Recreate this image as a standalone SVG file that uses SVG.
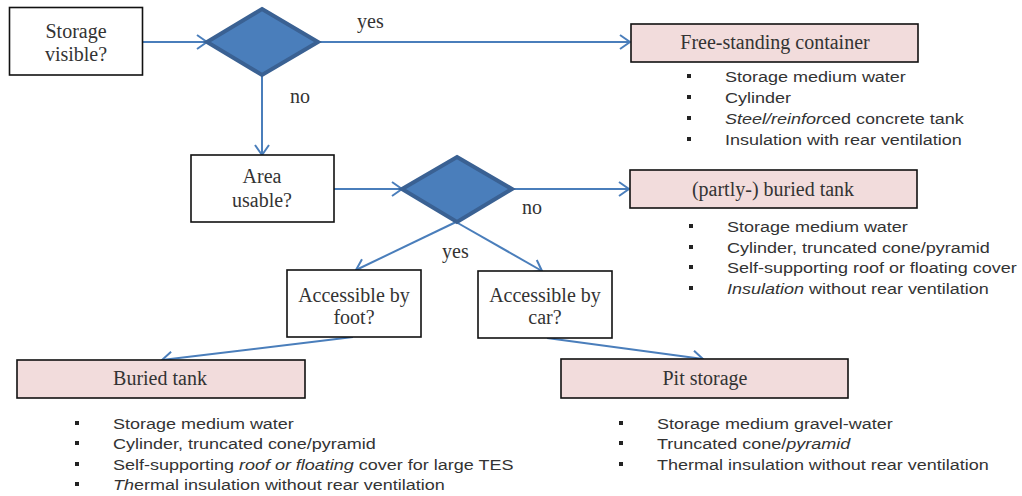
<svg xmlns="http://www.w3.org/2000/svg" width="1022" height="496" viewBox="0 0 1022 496">
<defs>
<style>
.q{fill:#fff;stroke:#111;stroke-width:1.6}
.r{fill:#f2dcdc;stroke:#111;stroke-width:1.6}
.d{fill:#4a7ebb;stroke:#3a6193;stroke-width:4;stroke-linejoin:miter}
.t{font-family:"Liberation Serif","Times New Roman",serif;font-size:20px;fill:#333;text-anchor:middle}
.l{font-family:"Liberation Serif","Times New Roman",serif;font-size:20px;fill:#333}
.b{font-family:"Liberation Sans",Arial,sans-serif;font-size:15px;fill:#333}
.k{fill:#222}
.c{stroke:#4a7ebb;stroke-width:2;fill:none;marker-end:url(#ah)}
</style>
<marker id="ah" viewBox="0 0 12 16" refX="11" refY="8" markerWidth="12" markerHeight="16" markerUnits="userSpaceOnUse" orient="auto">
<path d="M1,1 L11,8 L1,15" fill="none" stroke="#4a7ebb" stroke-width="2"/>
</marker>
</defs>
<rect width="1022" height="496" fill="#fff"/>

<g id="connectors">
<line class="c" x1="143" y1="42" x2="207" y2="42"/>
<line class="c" x1="318" y1="42" x2="630" y2="42"/>
<line class="c" x1="262" y1="75" x2="262" y2="155"/>
<line class="c" x1="334" y1="189" x2="402" y2="189"/>
<line class="c" x1="512" y1="189" x2="629" y2="189"/>
<line class="c" x1="456" y1="222" x2="356" y2="270"/>
<line class="c" x1="456" y1="222" x2="542" y2="271"/>
<line class="c" x1="353" y1="337" x2="162" y2="360"/>
<line class="c" x1="547" y1="338" x2="703" y2="359"/>
<text class="l" x="357" y="28">yes</text>
<text class="l" x="290" y="103">no</text>
<text class="l" x="522" y="214">no</text>
<text class="l" x="442" y="258">yes</text>
</g>

<g id="storage-visible">
<rect class="q" x="9.5" y="7.5" width="133" height="67.5"/>
<text class="t" x="76" y="38">Storage</text>
<text class="t" x="76" y="61">visible?</text>
</g>

<g id="decision1">
<polygon class="d" points="262,9 318,42 262,75 207,42"/>
</g>

<g id="free-standing">
<rect class="r" x="631" y="24" width="287" height="38"/>
<text class="t" x="775" y="49">Free-standing container</text>
<rect class="k" x="687" y="74" width="4" height="4"/>
<rect class="k" x="687" y="95" width="4" height="4"/>
<rect class="k" x="687" y="116" width="4" height="4"/>
<rect class="k" x="687" y="137" width="4" height="4"/>
<g transform="translate(725,0) scale(1.2,1)">
<text class="b" x="0" y="82">Storage medium water</text>
<text class="b" x="0" y="103">Cylinder</text>
<text class="b" x="0" y="124"><tspan font-style="italic">Steel/reinfor</tspan>ced concrete tank</text>
<text class="b" x="0" y="145">Insulation with rear ventilation</text>
</g>
</g>

<g id="area-usable">
<rect class="q" x="191" y="155" width="143" height="67"/>
<text class="t" x="262" y="183">Area</text>
<text class="t" x="262" y="207">usable?</text>
</g>

<g id="decision2">
<polygon class="d" points="457,157 512,189 457,222 402,189"/>
</g>

<g id="partly-buried">
<rect class="r" x="630" y="170" width="287" height="38"/>
<text class="t" x="773" y="196">(partly-) buried tank</text>
<rect class="k" x="689" y="224" width="4" height="4"/>
<rect class="k" x="689" y="245" width="4" height="4"/>
<rect class="k" x="689" y="265" width="4" height="4"/>
<rect class="k" x="689" y="286" width="4" height="4"/>
<g transform="translate(727,0) scale(1.2,1)">
<text class="b" x="0" y="232">Storage medium water</text>
<text class="b" x="0" y="253">Cylinder, truncated cone/pyramid</text>
<text class="b" x="0" y="273">Self-supporting roof  or floating cover</text>
<text class="b" x="0" y="294"><tspan font-style="italic">Insulation</tspan> without rear ventilation</text>
</g>
</g>

<g id="accessible-foot">
<rect class="q" x="287" y="270" width="134" height="67"/>
<text class="t" x="354" y="302">Accessible by</text>
<text class="t" x="354" y="324">foot?</text>
</g>

<g id="accessible-car">
<rect class="q" x="478" y="271" width="134" height="67"/>
<text class="t" x="545" y="302">Accessible by</text>
<text class="t" x="545" y="324">car?</text>
</g>

<g id="buried-tank">
<rect class="r" x="17" y="360" width="288" height="38"/>
<text class="t" x="160" y="385">Buried tank</text>
<rect class="k" x="75" y="421" width="4" height="4"/>
<rect class="k" x="75" y="441" width="4" height="4"/>
<rect class="k" x="75" y="462" width="4" height="4"/>
<rect class="k" x="75" y="482" width="4" height="4"/>
<g transform="translate(113,0) scale(1.2,1)">
<text class="b" x="0" y="429">Storage medium water</text>
<text class="b" x="0" y="449">Cylinder, truncated cone/pyramid</text>
<text class="b" x="0" y="470">Self-supporting <tspan font-style="italic">roof or floating</tspan> cover for large TES</text>
<text class="b" x="0" y="490"><tspan font-style="italic">Th</tspan>ermal insulation without rear ventilation</text>
</g>
</g>

<g id="pit-storage">
<rect class="r" x="561" y="359" width="287" height="39"/>
<text class="t" x="705" y="385">Pit storage</text>
<rect class="k" x="619" y="421" width="4" height="4"/>
<rect class="k" x="619" y="441" width="4" height="4"/>
<rect class="k" x="619" y="462" width="4" height="4"/>
<g transform="translate(657,0) scale(1.2,1)">
<text class="b" x="0" y="429">Storage medium gravel-water</text>
<text class="b" x="0" y="449">Truncated cone/<tspan font-style="italic">pyramid</tspan></text>
<text class="b" x="0" y="470">Thermal insulation without rear ventilation</text>
</g>
</g>
</svg>
